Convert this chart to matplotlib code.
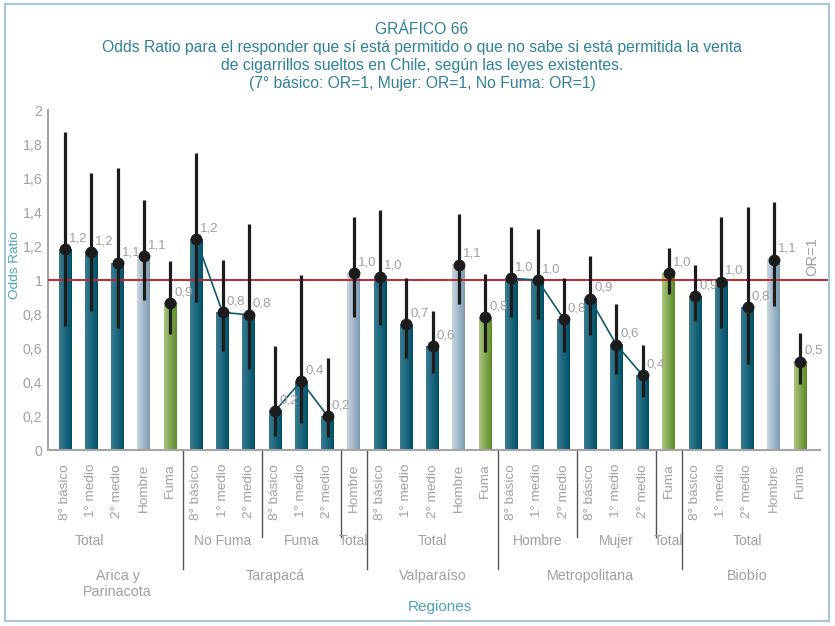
import numpy as np
import matplotlib
matplotlib.use("Agg")
import matplotlib.pyplot as plt
from matplotlib.colors import LinearSegmentedColormap
from matplotlib.patches import Rectangle

plt.rcParams['font.family'] = ['Liberation Sans', 'DejaVu Sans']

# ---------------- data ----------------
categories = ["8° básico", "1° medio", "2° medio", "Hombre", "Fuma",
              "8° básico", "1° medio", "2° medio",
              "8° básico", "1° medio", "2° medio", "Hombre",
              "8° básico", "1° medio", "2° medio", "Hombre", "Fuma",
              "8° básico", "1° medio", "2° medio",
              "8° básico", "1° medio", "2° medio", "Fuma",
              "8° básico", "1° medio", "2° medio", "Hombre", "Fuma"]

subgroup_labels = ["Total", "No Fuma", "Fuma", "Total", "Total",
                   "Hombre", "Mujer", "Total", "Total"]
subgroup_sizes = [5, 3, 3, 1, 5, 3, 3, 1, 5]
subgroup_connected = [False, True, True, False, False, True, True, False, False]

region_labels = ["Arica y\nParinacota", "Tarapacá", "Valparaíso", "Metropolitana", "Biobío"]
region_sizes = [5, 7, 5, 7, 5]

odds = [1.18, 1.165, 1.10, 1.14, 0.865,
        1.24, 0.81, 0.795,
        0.23, 0.405, 0.20, 1.04,
        1.02, 0.74, 0.61, 1.09, 0.78,
        1.01, 1.00, 0.77,
        0.89, 0.62, 0.44, 1.04,
        0.905, 0.99, 0.84, 1.12, 0.52]
ci_low = [0.73, 0.82, 0.72, 0.88, 0.68,
          0.87, 0.58, 0.475,
          0.08, 0.16, 0.075, 0.78,
          0.735, 0.54, 0.455, 0.86, 0.575,
          0.785, 0.77, 0.575,
          0.675, 0.45, 0.31, 0.92,
          0.76, 0.72, 0.505, 0.85, 0.39]
ci_high = [1.87, 1.63, 1.66, 1.47, 1.11,
           1.75, 1.12, 1.33,
           0.61, 1.03, 0.54, 1.37,
           1.41, 1.01, 0.82, 1.39, 1.035,
           1.31, 1.30, 1.01,
           1.14, 0.86, 0.62, 1.19,
           1.09, 1.37, 1.43, 1.46, 0.69]

y_ticks = [0, 0.2, 0.4, 0.6, 0.8, 1.0, 1.2, 1.4, 1.6, 1.8, 2.0]
y_ticklabels = ["0", "0,2", "0,4", "0,6", "0,8", "1", "1,2", "1,4", "1,6", "1,8", "2"]

# ---------------- styling ----------------
W, H = 835, 626
GRAY = "#a0a0a0"
TEAL_TXT = "#2f8199"
LIGHT_TEAL = "#4aa3bd"

cmap_teal = LinearSegmentedColormap.from_list("t", ["#3a7c92", "#005066"])
cmap_light = LinearSegmentedColormap.from_list("l", ["#c9d6e0", "#7b9bb2"])
cmap_green = LinearSegmentedColormap.from_list("g", ["#aac680", "#5b8a26"])

def cmap_for(cat):
    if cat == "Hombre":
        return cmap_light
    if cat == "Fuma":
        return cmap_green
    return cmap_teal

fig = plt.figure(figsize=(W / 100, H / 100), dpi=100)
fig.patch.set_facecolor("white")

ax_left_px, ax_right_px, ax_top_px, ax_bottom_px = 48, 828, 110, 450
ax = fig.add_axes([ax_left_px / W, 1 - ax_bottom_px / H,
                   (ax_right_px - ax_left_px) / W, (ax_bottom_px - ax_top_px) / H])

n = len(categories)
x = np.arange(n)
step_px = 26.25
first_px = 65
xmin = (ax_left_px - first_px) / step_px
xmax = (ax_right_px - first_px) / step_px
px_per_unit = (ax_bottom_px - ax_top_px) / 2.0

def ypx(p):
    return (ax_bottom_px - p) / px_per_unit

bw = 0.48
grad = np.linspace(0, 1, 64).reshape(1, -1)
for xi, v, cat in zip(x, odds, categories):
    ax.imshow(grad, cmap=cmap_for(cat), extent=[xi - bw / 2, xi + bw / 2, 0, v],
              aspect="auto", interpolation="bilinear", zorder=2)

ax.axhline(1, color="#c1272d", lw=1.4, zorder=3)

ax.vlines(x, ci_low, ci_high, color="#1c1c1c", lw=2.3, zorder=4)

# connecting lines within subgroups
start = 0
for size, conn in zip(subgroup_sizes, subgroup_connected):
    if conn:
        ax.plot(x[start:start + size], odds[start:start + size],
                color="#0e5a70", lw=1.2, zorder=4.5)
    start += size

ax.plot(x, odds, "o", color="#1c1c1c", ms=7.5, zorder=5)

for xi, v in zip(x, odds):
    ax.annotate(f"{v:.1f}".replace(".", ","), (xi, v), xytext=(3, 3.5),
                textcoords="offset points", ha="left", va="bottom",
                color=GRAY, fontsize=9.5, zorder=6)

ax.text(xmax - 0.6, 1.14, "OR=1", rotation=90, ha="center", va="center",
        color=GRAY, fontsize=10.5)

ax.set_xlim(xmin, xmax)
ax.set_ylim(0, 2)

for s in ["top", "right"]:
    ax.spines[s].set_visible(False)
ax.spines["left"].set_color("#a5a5a5")
ax.spines["left"].set_linewidth(1.5)
ax.spines["bottom"].set_color("#a5a5a5")
ax.spines["bottom"].set_linewidth(1.5)
ax.spines["bottom"].set_bounds(xmin, (820 - first_px) / step_px)

ax.set_yticks(y_ticks)
ax.set_yticklabels(y_ticklabels)
ax.tick_params(axis="y", length=0, pad=4, labelcolor=GRAY, labelsize=10.2)
ax.set_xticks(x)
ax.set_xticklabels(categories, rotation=90)
ax.tick_params(axis="x", length=0, pad=10, labelcolor=GRAY, labelsize=9.7)

# separators and group labels
sep_long = ypx(569)
sep_short = ypx(537)
sub_y = ypx(541)
reg_y = ypx(569)

start = 0
sub_bounds = []
for i, (lab, size) in enumerate(zip(subgroup_labels, subgroup_sizes)):
    cx = start + (size - 1) / 2
    if i == 0:
        cx = 0.95
    ax.text(cx, sub_y, lab, ha="center", va="center", color=GRAY, fontsize=10,
            clip_on=False)
    start += size
    sub_bounds.append(start)

reg_bounds = list(np.cumsum(region_sizes))
for b in sub_bounds[:-1]:
    bottom = sep_long if b in reg_bounds else sep_short
    ax.plot([b - 0.5, b - 0.5], [0, bottom], color="#555555", lw=1.0,
            clip_on=False, zorder=1)

start = 0
for lab, size in zip(region_labels, region_sizes):
    cx = start + (size - 1) / 2
    ax.text(cx, reg_y, lab, ha="center", va="top", color=GRAY, fontsize=10.3,
            clip_on=False, linespacing=1.15)
    start += size

fig.text(440 / W, 1 - 607 / H, "Regiones", ha="center", va="center",
         color=LIGHT_TEAL, fontsize=11)
fig.text(15 / W, 1 - 265 / H, "Odds Ratio", ha="center", va="center",
         rotation=90, color=LIGHT_TEAL, fontsize=9.7)

title_lines = ["GRÁFICO 66",
               "Odds Ratio para el responder que sí está permitido o que no sabe si está permitida la venta",
               "de cigarrillos sueltos en Chile, según las leyes existentes.",
               "(7° básico: OR=1, Mujer: OR=1, No Fuma: OR=1)"]
for i, t in enumerate(title_lines):
    fig.text(422 / W, 1 - (30 + i * 17.7) / H, t, ha="center", va="center",
             color=TEAL_TXT, fontsize=11.3)

# frame
fig.patches.append(Rectangle((5 / W, 1 - 621 / H), 824 / W, 617 / H,
                             transform=fig.transFigure, fill=False,
                             edgecolor="#a9c6d4", lw=1.6))

fig.savefig("out.png", dpi=100, facecolor="white")
